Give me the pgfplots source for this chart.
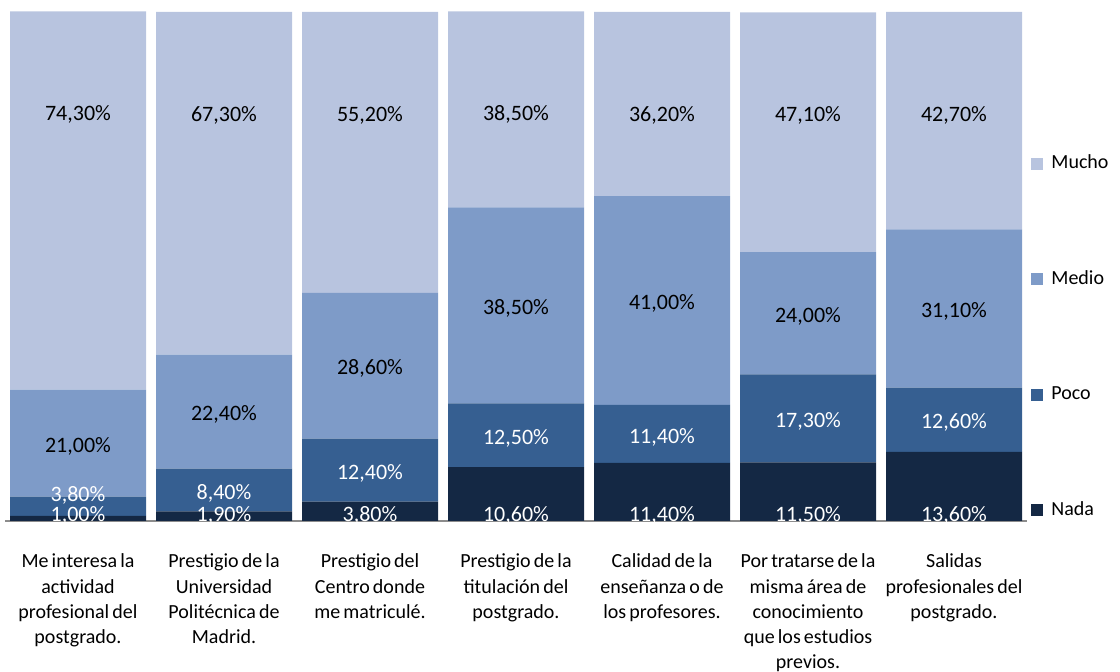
\documentclass[border=0pt]{standalone}
\usepackage{fontspec}
\setmainfont{Carlito}[WordSpace=0.7]
\usepackage{pgfplots}
\pgfplotsset{compat=1.18}
\usepackage{pgfplotstable}

\definecolor{nada}{HTML}{142844}
\definecolor{poco}{HTML}{365F91}
\definecolor{medio}{HTML}{7E9BC8}
\definecolor{mucho}{HTML}{B8C4DF}

% stacked labels sit at the segment centre (1 unit = 2.545pt);
% the top series' labels sit at a fixed height, and so do the bottom series'
\pgfplotsset{
  top shift/.code={%
    \pgfkeys{/pgf/fpu=true,/pgf/fpu/output format=fixed}%
    \pgfmathsetmacro\topshift{(\pgfplotspointmeta/2-19.65)*2.545}%
    \pgfkeys{/pgf/fpu=false}%
  },
  base shift/.code={%
    \pgfkeys{/pgf/fpu=true,/pgf/fpu/output format=fixed}%
    \pgfmathsetmacro\baseshift{(1.77-\pgfplotspointmeta/2)*2.545}%
    \pgfkeys{/pgf/fpu=false}%
  },
  % a very thin segment pushes its label up, as in the original
  thin shift/.code={%
    \pgfkeys{/pgf/fpu=true,/pgf/fpu/output format=fixed}%
    \pgfmathsetmacro\thinshift{ifthenelse(\pgfplotspointmeta<5,7,0)}%
    \pgfkeys{/pgf/fpu=false}%
  },
}

\pgfplotstableread{
x Nada Poco Medio Mucho
0 1.0 3.8 21.0 74.3
1 1.9 8.4 22.4 67.3
2 3.8 12.4 28.6 55.2
3 10.6 12.5 38.5 38.5
4 11.4 11.4 41.0 36.2
5 11.5 17.3 24.0 47.1
6 13.6 12.6 31.1 42.7
}\datatable

\begin{document}
\begin{tikzpicture}[font=\fontsize{10}{12.6}\selectfont]
\path[use as bounding box] (-2.5pt,-75.5pt) rectangle (557.5pt,260.5pt);
\begin{axis}[
    scale only axis,
    width=511pt, height=254.5pt,
    ybar stacked,
    bar width=68pt,
    xmin=-0.5, xmax=6.5,
    ymin=0, ymax=100,
    clip=false,
    axis y line=none,
    axis x line*=bottom,
    axis line style={draw=gray!90, line width=1pt},
    xtick=data,
    major tick length=0pt,
    xticklabels={
      {Me interesa la\\actividad\\profesional del\\postgrado.},
      {Prestigio de la\\Universidad\\Politécnica de\\Madrid.},
      {Prestigio del\\Centro donde\\me matriculé.},
      {Prestigio de la\\titulación del\\postgrado.},
      {Calidad de la\\enseñanza o de\\los profesores.},
      {Por tratarse de la\\misma área de\\conocimiento\\que los estudios\\previos.},
      {Salidas\\profesionales del\\postgrado.}},
    xticklabel style={align=center, anchor=north, yshift=-13pt},
    /pgf/number format/assume math mode=true,
    nodes near coords={\pgfmathprintnumber[fixed, fixed zerofill, precision=2, use comma]{\pgfplotspointmeta}\%},
    nodes near coords align={center},
    every node near coord/.append style={font=\fontsize{11}{13}\selectfont, anchor=center, yshift=-1.5pt},
    reverse legend,
    legend cell align=left,
    legend style={draw=none, fill=none, at={(rel axis cs:1,0)}, anchor=south west,
      row sep=45.5pt, xshift=-1pt, yshift=-3pt},
    legend image code/.code={\fill (0pt,-3pt) rectangle (6pt,3pt); \path (8pt,0pt);},
]
\addplot[fill=nada, draw=none, every node near coord/.append style={text=white, /pgfplots/base shift, yshift=\baseshift pt}]
  table[x=x, y=Nada] {\datatable};
\addplot[fill=poco, draw=none, every node near coord/.append style={text=white, /pgfplots/thin shift, yshift=\thinshift pt}]
  table[x=x, y=Poco] {\datatable};
\addplot[fill=medio, draw=none, every node near coord/.append style={text=black}]
  table[x=x, y=Medio] {\datatable};
\addplot[fill=mucho, draw=none, every node near coord/.append style={text=black, /pgfplots/top shift, yshift=\topshift pt}]
  table[x=x, y=Mucho] {\datatable};
\legend{Nada, Poco, Medio, Mucho}
\end{axis}
\end{tikzpicture}
\end{document}
